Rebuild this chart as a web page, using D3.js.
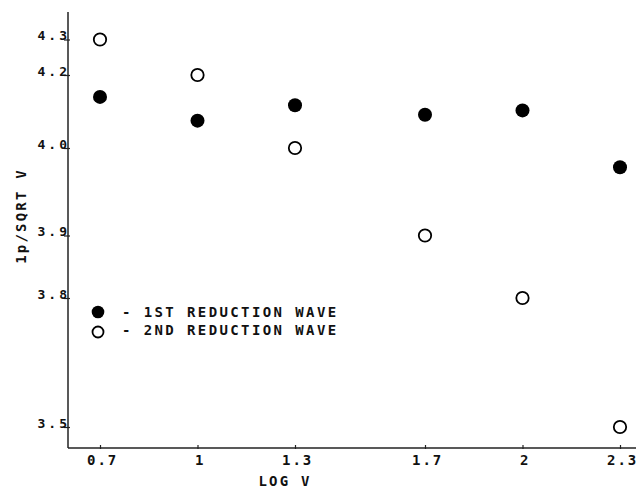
<!DOCTYPE html>
<html lang="en">
<head>
  <meta charset="UTF-8">
  <title>ip / sqrt v vs log v</title>
  <style>
    body { margin: 0; background: #fff; }
    text { font-family: "DejaVu Sans Mono", monospace; fill: #111; font-weight: bold; }
  </style>
</head>
<body>
  <div id="chart"></div>

  <script src="https://cdnjs.cloudflare.com/ajax/libs/d3/7.8.5/d3.min.js"></script>
  <script>
    // data
    const logV = [0.7, 1, 1.3, 1.7, 2, 2.3];
    const firstWave = [4.14, 4.075, 4.117, 4.091, 4.103, 3.978];
    const secondWave = [4.3, 4.2, 4.0, 3.9, 3.8, 3.5];

    const xTicks = [0.7, 1, 1.3, 1.7, 2, 2.3];
    const xTickLabels = ["0.7", "1", "1.3", "1.7", "2", "2.3"];
    const yTicks = [3.5, 3.8, 3.9, 4.0, 4.2, 4.3];
    const yTickLabels = ["3.5", "3.8", "3.9", "4.0", "4.2", "4.3"];

    const legendLabels = ["1ST REDUCTION WAVE", "2ND REDUCTION WAVE"];

    const W = 641, H = 489
    const axisX = 68, axisY = 448

    const svg = d3.select("#chart").append("svg")
      .attr("width", W)
      .attr("height", H)

    // x is linear, the y labels on the original were spaced by hand -> piecewise scale
    const x = d3.scaleLinear()
      .domain([0.7, 2.3])
      .range([100, 620])

    const y = d3.scaleLinear()
      .domain(yTicks)
      .range([427, 298, 235.5, 148, 75, 39.5])

    // axis lines
    svg.append("line")
      .attr("x1", axisX).attr("x2", axisX)
      .attr("y1", 12).attr("y2", axisY)
      .attr("stroke", "#222").attr("stroke-width", 1.5)
    svg.append("line")
      .attr("x1", axisX).attr("x2", 636)
      .attr("y1", axisY).attr("y2", axisY)
      .attr("stroke", "#222").attr("stroke-width", 1.5)

    // x axis
    const xAxis = d3.axisBottom(x)
      .tickValues(xTicks)
      .tickFormat((d, i) => xTickLabels[i])
      .tickSize(4)
      .tickSizeOuter(0)

    svg.append("g")
      .attr("transform", `translate(0, ${axisY - 3})`)
      .call(xAxis)
      .call(g => g.select(".domain").remove())
      .call(g => g.selectAll("line").attr("stroke", "#222").attr("stroke-width", 1.2))
      .call(g => g.selectAll("text")
        .attr("y", 20)
        .attr("dy", 0)
        .attr("dx", "0.15em")
        .style("font-size", "14px")
        .style("letter-spacing", "2px")
        .style("fill", "#111"))

    // y axis
    const yAxis = d3.axisLeft(y)
      .tickValues(yTicks)
      .tickFormat((d, i) => yTickLabels[i])
      .tickSize(6)
      .tickSizeOuter(0)

    svg.append("g")
      .attr("transform", `translate(${axisX + 2}, 0)`)
      .call(yAxis)
      .call(g => g.select(".domain").remove())
      .call(g => g.selectAll("line").attr("stroke", "#222").attr("stroke-width", 1.2))
      .call(g => g.selectAll("text")
        .attr("x", 0)
        .attr("dy", 0)
        .style("font-size", "13px")
        .style("letter-spacing", "3px")
        .style("fill", "#111"))

    // axis titles
    svg.append("text")
      .attr("x", 285)
      .attr("y", 486)
      .attr("text-anchor", "middle")
      .style("font-size", "14px")
      .style("letter-spacing", "2.2px")
      .text("LOG V")

    svg.append("text")
      .attr("transform", "translate(26, 216) rotate(-90)")
      .attr("text-anchor", "middle")
      .style("font-size", "14px")
      .style("letter-spacing", "2.2px")
      .text("1p/SQRT V")

    // points
    const pts = logV.map((v, i) => ({ v: v, a: firstWave[i], b: secondWave[i] }))

    svg.selectAll(".first")
      .data(pts).enter()
      .append("circle")
      .attr("class", "first")
      .attr("cx", d => x(d.v))
      .attr("cy", d => y(d.a))
      .attr("r", 7)
      .attr("fill", "#000")

    svg.selectAll(".second")
      .data(pts).enter()
      .append("circle")
      .attr("class", "second")
      .attr("cx", d => x(d.v))
      .attr("cy", d => y(d.b))
      .attr("r", 6.2)
      .attr("fill", "none")
      .attr("stroke", "#000")
      .attr("stroke-width", 1.8)

    // legend
    const legend = svg.append("g").attr("transform", "translate(98, 312)")

    legend.append("circle")
      .attr("cx", 0).attr("cy", 0).attr("r", 6.3)
      .attr("fill", "#000")
    legend.append("circle")
      .attr("cx", 0).attr("cy", 20).attr("r", 5.5)
      .attr("fill", "none").attr("stroke", "#000").attr("stroke-width", 1.8)

    legend.selectAll(".leg")
      .data(legendLabels).enter()
      .append("text")
      .attr("class", "leg")
      .attr("x", 24)
      .attr("y", (d, i) => 4.5 + i * 18)
      .style("font-size", "14px")
      .style("letter-spacing", "2.4px")
      .text(d => "- " + d)
  </script>
</body>
</html>
